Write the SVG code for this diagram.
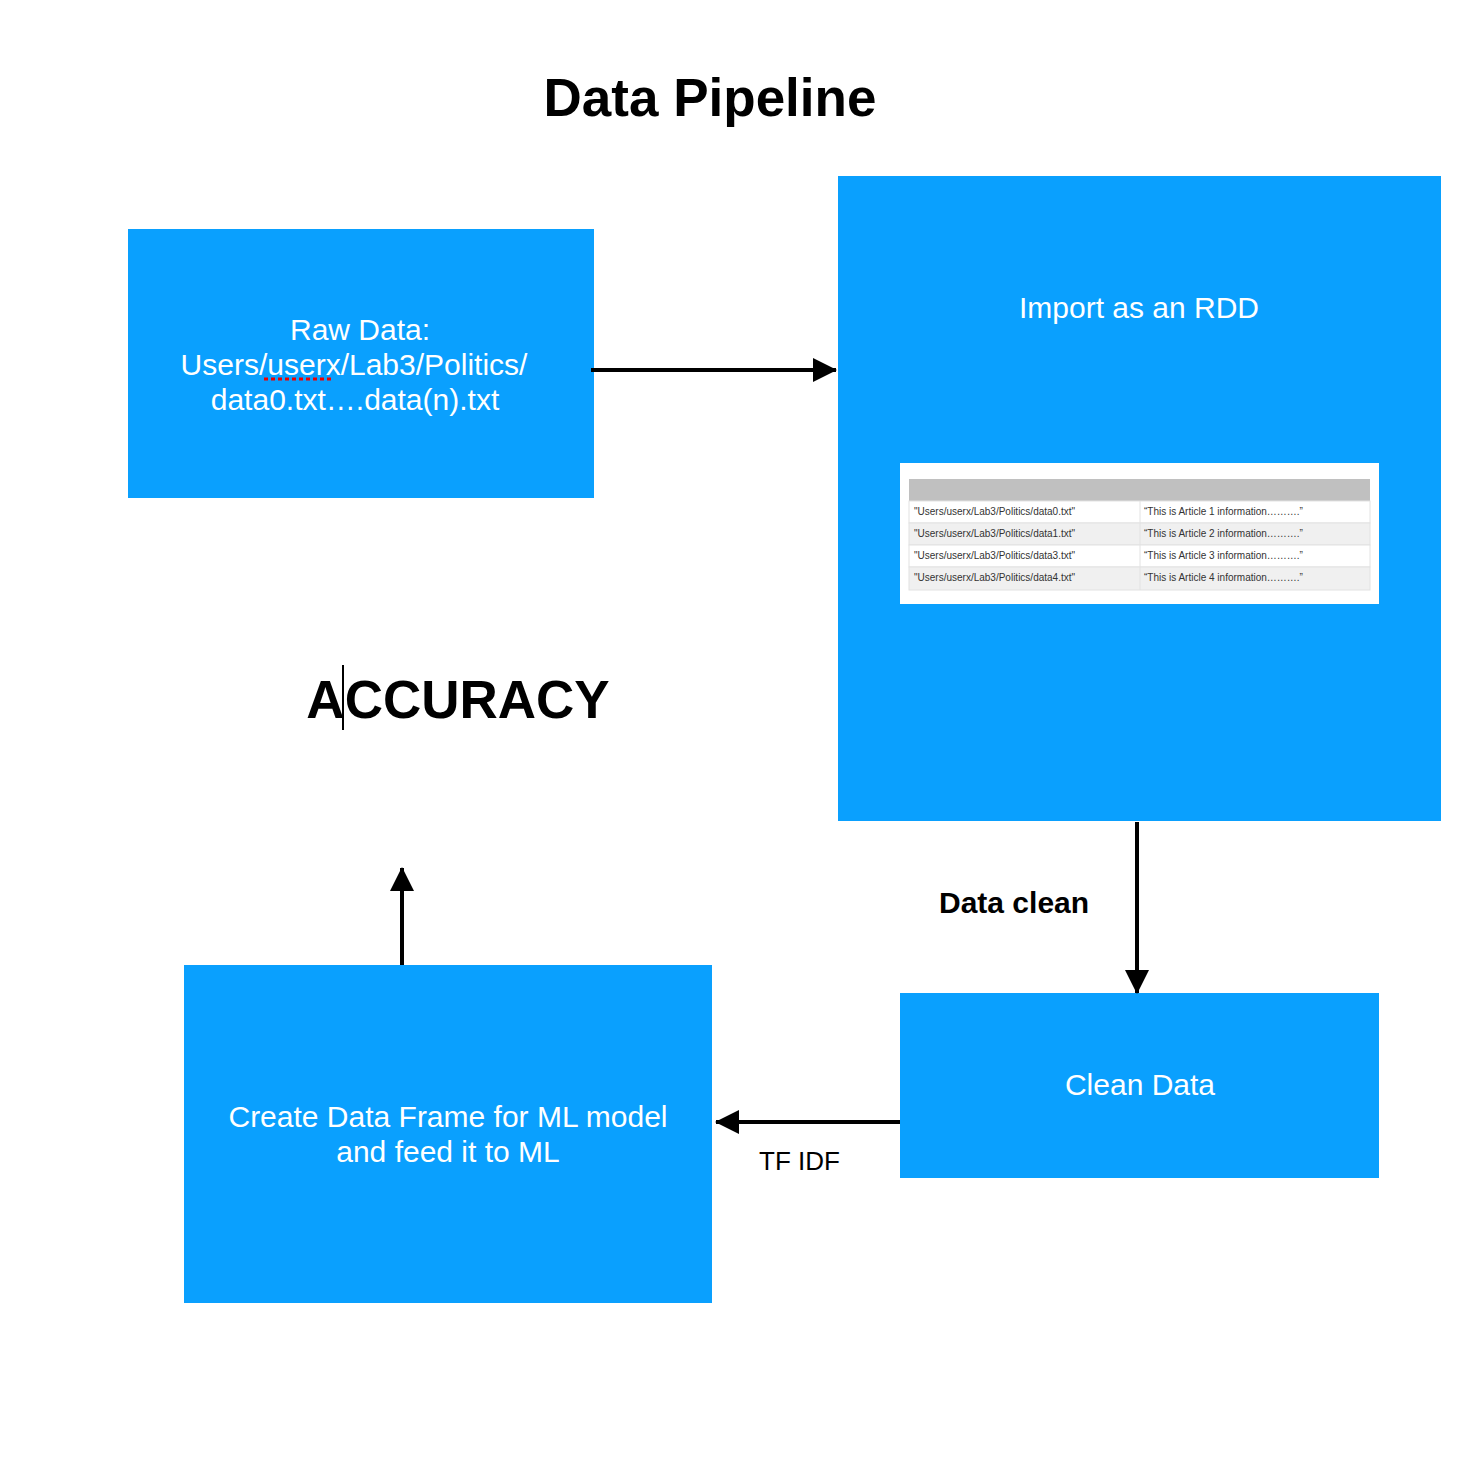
<svg xmlns="http://www.w3.org/2000/svg" width="1472" height="1472" viewBox="0 0 1472 1472">
<style>
.box{fill:#0aa0fe}
.wt{fill:#fff;font-family:"Liberation Sans",Arial,sans-serif;font-size:30px;text-anchor:middle}
.bk{fill:#000;font-family:"Liberation Sans",Arial,sans-serif}
.cell{fill:#333;font-family:"Liberation Sans",Arial,sans-serif;font-size:10px}
.conn{stroke:#000;stroke-width:4;fill:none}
</style>
<defs>
<marker id="ah" viewBox="0 0 24 24" refX="23" refY="12" markerWidth="24" markerHeight="24" markerUnits="userSpaceOnUse" orient="auto">
<path d="M0,0 L24,12 L0,24 Z" fill="#000"/>
</marker>
</defs>
<rect width="1472" height="1472" fill="#fff"/>
<text class="bk" x="710" y="116" font-size="53" font-weight="bold" text-anchor="middle">Data Pipeline</text>

<g id="raw">
<rect class="box" x="128" y="229" width="466" height="269"/>
<text class="wt" x="360" y="340">Raw Data:</text>
<text class="wt" x="354" y="375">Users/userx/Lab3/Politics/</text>
<text class="wt" x="355" y="410">data0.txt….data(n).txt</text>
<line x1="264" y1="379" x2="332" y2="379" stroke="#e00" stroke-width="3" stroke-dasharray="4,3"/>
</g>

<g id="rdd">
<rect class="box" x="838" y="176" width="603" height="645"/>
<text class="wt" x="1139" y="318">Import as an RDD</text>
<rect x="900" y="463" width="479" height="141" fill="#fff"/>
<rect x="909" y="479" width="461" height="22" fill="#c0c0c0"/>
<rect x="909" y="501" width="461" height="22" fill="#fff" stroke="#e2e2e2"/>
<rect x="909" y="523" width="461" height="22" fill="#f0f0f0" stroke="#e2e2e2"/>
<rect x="909" y="545" width="461" height="22" fill="#fff" stroke="#e2e2e2"/>
<rect x="909" y="567" width="461" height="23" fill="#f0f0f0" stroke="#e2e2e2"/>
<line x1="1140" y1="501" x2="1140" y2="590" stroke="#e2e2e2"/>
<text class="cell" x="914" y="515">"Users/userx/Lab3/Politics/data0.txt"</text>
<text class="cell" x="914" y="537">"Users/userx/Lab3/Politics/data1.txt"</text>
<text class="cell" x="914" y="559">"Users/userx/Lab3/Politics/data3.txt"</text>
<text class="cell" x="914" y="581">"Users/userx/Lab3/Politics/data4.txt"</text>
<text class="cell" x="1144" y="515">“This is Article 1 information……….”</text>
<text class="cell" x="1144" y="537">“This is Article 2 information……….”</text>
<text class="cell" x="1144" y="559">“This is Article 3 information……….”</text>
<text class="cell" x="1144" y="581">“This is Article 4 information……….”</text>
</g>

<g id="accuracy">
<text class="bk" x="458" y="718" font-size="53" font-weight="bold" text-anchor="middle">ACCURACY</text>
<line x1="343" y1="665" x2="343" y2="730" stroke="#000" stroke-width="2"/>
</g>

<g id="clean">
<rect class="box" x="900" y="993" width="479" height="185"/>
<text class="wt" x="1140" y="1095">Clean Data</text>
</g>

<g id="create">
<rect class="box" x="184" y="965" width="528" height="338"/>
<text class="wt" x="448" y="1127">Create Data Frame for ML model</text>
<text class="wt" x="448" y="1162">and feed it to ML</text>
</g>

<g id="connectors">
<line class="conn" x1="591" y1="370" x2="836" y2="370" marker-end="url(#ah)"/>
<line class="conn" x1="1137" y1="822" x2="1137" y2="993" marker-end="url(#ah)"/>
<line class="conn" x1="900" y1="1122" x2="716" y2="1122" marker-end="url(#ah)"/>
<line class="conn" x1="402" y1="965" x2="402" y2="868" marker-end="url(#ah)"/>
<text class="bk" x="939" y="913" font-size="30" font-weight="bold">Data clean</text>
<text class="bk" x="759" y="1170" font-size="26">TF IDF</text>
</g>
</svg>
